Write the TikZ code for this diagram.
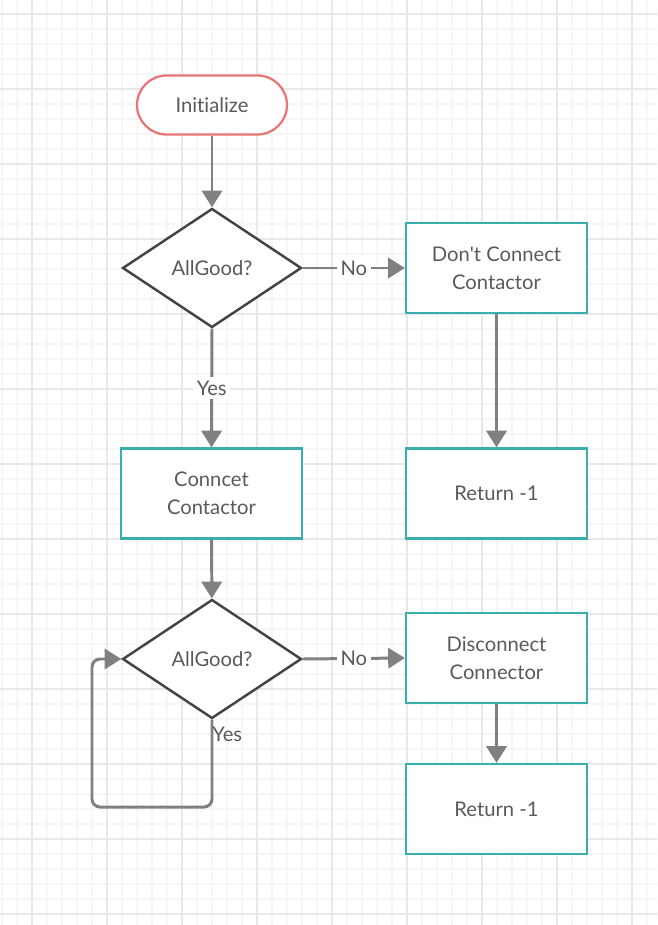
\documentclass[tikz,border=0pt]{standalone}
\usepackage{fontspec}
\setmainfont{Lato}[Ligatures=NoCommon]
\usetikzlibrary{arrows.meta}
\usetikzlibrary{shapes.geometric}
\definecolor{gridminor}{RGB}{246,246,246}
\definecolor{gridmajor}{RGB}{232,232,232}
\definecolor{linegrey}{RGB}{128,128,128}
\definecolor{textgrey}{RGB}{90,90,90}
\definecolor{boxteal}{RGB}{58,173,173}
\definecolor{startred}{RGB}{232,118,118}
\definecolor{diamondgrey}{RGB}{68,68,68}

\tikzset{
 startnode/.style={draw=startred,line width=1.3pt,rounded corners=0.59cm,fill=white,
   minimum width=3cm,minimum height=1.18cm,inner sep=0pt},
 procbox/.style={draw=boxteal,line width=1.3pt,fill=white,align=center,
   minimum width=3.62cm,minimum height=1.8cm,inner sep=0pt},
 decision/.style={draw=diamondgrey,line width=1.4pt,fill=white,diamond,aspect=1.5,
   minimum width=3.58cm,minimum height=2.38cm,inner sep=0pt},
 flow/.style={-{Triangle[length=9.5pt,width=11.5pt]},draw=linegrey,line width=1.7pt},
 flowlabel/.style={fill=white,text=textgrey,inner sep=2pt}
}

\begin{document}
\begin{tikzpicture}[x=0.02cm,y=-0.02cm,font=\fontsize{11.5}{16}\selectfont,text=textgrey]
 \useasboundingbox (0,0) rectangle (657,925);
 % background grid
 \foreach \gx in {2,17,...,647} \draw [gridminor,line width=0.6pt] (\gx,0) -- (\gx,925);
 \foreach \gy in {14,29,...,914} \draw [gridminor,line width=0.6pt] (0,\gy) -- (657,\gy);
 \foreach \gx in {32,107,...,632} \draw [gridmajor,line width=0.8pt] (\gx,0) -- (\gx,925);
 \foreach \gy in {14,89,...,914} \draw [gridmajor,line width=0.8pt] (0,\gy) -- (657,\gy);

 \node [startnode] (Init) at (212,105) {Initialize};
 \node [decision] (Check1) at (212,268) {AllGood?};
 \node [procbox] (NoConnect) at (496.5,268) {Don\textquotesingle t Connect\\Contactor};
 \node [procbox] (Connect) at (211.5,493.5) {Conncet\\Contactor};
 \node [procbox] (Ret1) at (496.5,493.5) {Return -1};
 \node [decision] (Check2) at (212,659) {AllGood?};
 \node [procbox] (Disconnect) at (496.5,658) {Disconnect\\Connector};
 \node [procbox] (Ret2) at (496.5,809) {Return -1};
 \coordinate (LoopCorner) at (92,807);

 \draw [flow] (Init) -- (Check1);
 \draw [flow] (Check1.east) -- (NoConnect.west) node [midway,flowlabel] {No};
 \draw [flow] (Check1.south) -- (Connect.north) node [midway,flowlabel] {Yes};
 \draw [flow] (NoConnect) -- (Ret1);
 \draw [flow] (Connect) -- (Check2);
 \draw [flow] (Check2.east) -- (Disconnect.west) node [midway,flowlabel] {No};
 \draw [flow] (Disconnect) -- (Ret2);
 \draw [flow,rounded corners=0.16cm] (Check2.south) |- (LoopCorner) |- (Check2.west);
 \node [text=textgrey,inner sep=0pt,anchor=north west] (YesLoop) at (212,727) {Yes};
\end{tikzpicture}
\end{document}
